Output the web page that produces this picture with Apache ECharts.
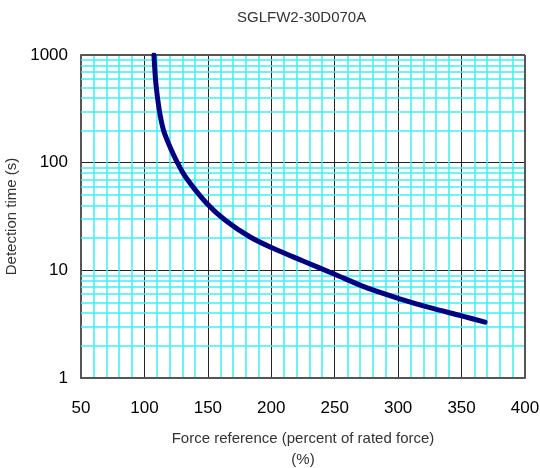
<!DOCTYPE html>
<html>
<head>
<meta charset="utf-8">
<script src="https://cdn.jsdelivr.net/npm/echarts@6/dist/echarts.min.js"></script>
<style>html,body{margin:0;padding:0;background:#fff;}#c{width:540px;height:468px;}</style>
</head>
<body>
<div id="c"></div>
<script>
var chartTitle = 'SGLFW2-30D070A';
var xName = 'Force reference (percent of rated force)\n(%)';
var yName = 'Detection time (s)';
var force = [107.5, 109, 111.7, 115, 119, 126, 133, 149, 163.5, 183, 200, 225, 250, 275, 300, 325, 350, 368.5];
var detTime = [1000, 546, 308, 201, 151, 100, 72, 42, 29.4, 20.5, 16.3, 12.2, 9.2, 6.9, 5.5, 4.5, 3.78, 3.3];
var minorY = [2,3,4,5,6,7,8,9,20,30,40,50,60,70,80,90,200,300,400,500,600,700,800,900];

var FONT = '"Liberation Sans", Arial, sans-serif';
var chart = echarts.init(document.getElementById('c'), null, {renderer: 'canvas'});
chart.setOption({
  animation: false,
  title: {
    text: chartTitle, left: 232, top: 5,
    textStyle: {fontSize: 15, fontWeight: 'normal', color: '#333', fontFamily: FONT}
  },
  grid: {left: 81, right: 15, top: 55, bottom: 90, containLabel: false, outerBoundsMode: 'none'},
  xAxis: {
    type: 'value', min: 50, max: 400, interval: 50,
    name: xName, nameLocation: 'middle', nameGap: 50,
    nameTextStyle: {fontSize: 15, color: '#333', fontFamily: FONT, lineHeight: 21},
    axisLine: {show: true, lineStyle: {color: '#555', width: 2}},
    axisTick: {show: false},
    axisLabel: {fontSize: 17, color: '#000', margin: 22, fontFamily: FONT},
    splitLine: {show: true, lineStyle: {color: '#222', width: 1}},
    minorTick: {show: false, splitNumber: 5},
    minorSplitLine: {show: true, lineStyle: {color: '#3ff0f0', width: 1.5}}
  },
  yAxis: {
    type: 'log', logBase: 10, min: 1, max: 1000,
    name: yName, nameLocation: 'middle', nameGap: 62,
    nameTextStyle: {fontSize: 15, color: '#333', fontFamily: FONT},
    axisLine: {show: true, lineStyle: {color: '#555', width: 2}},
    axisTick: {show: false},
    axisLabel: {fontSize: 17, color: '#000', margin: 13, fontFamily: FONT,
      formatter: function (v) { return String(Math.round(v)); }},
    splitLine: {show: true, lineStyle: {color: '#222', width: 1}}
  },
  series: [{
    type: 'line',
    data: force.map(function (f, i) { return [f, detTime[i]]; }),
    showSymbol: false,
    smooth: 0.25,
    lineStyle: {color: '#000080', width: 5, cap: 'round'},
    z: 5,
    markLine: {
      silent: true, symbol: 'none', animation: false,
      label: {show: false},
      lineStyle: {color: '#3ff0f0', width: 1.5, type: 'solid'},
      data: minorY.map(function (v) { return {yAxis: v}; })
    }
  }, {
    type: 'line', data: [],
    markLine: {
      silent: true, symbol: 'none', label: {show: false},
      lineStyle: {color: '#555', width: 2, type: 'solid'},
      data: [{yAxis: 1000}, {xAxis: 400}]
    }
  }]
});
</script>
</body>
</html>
